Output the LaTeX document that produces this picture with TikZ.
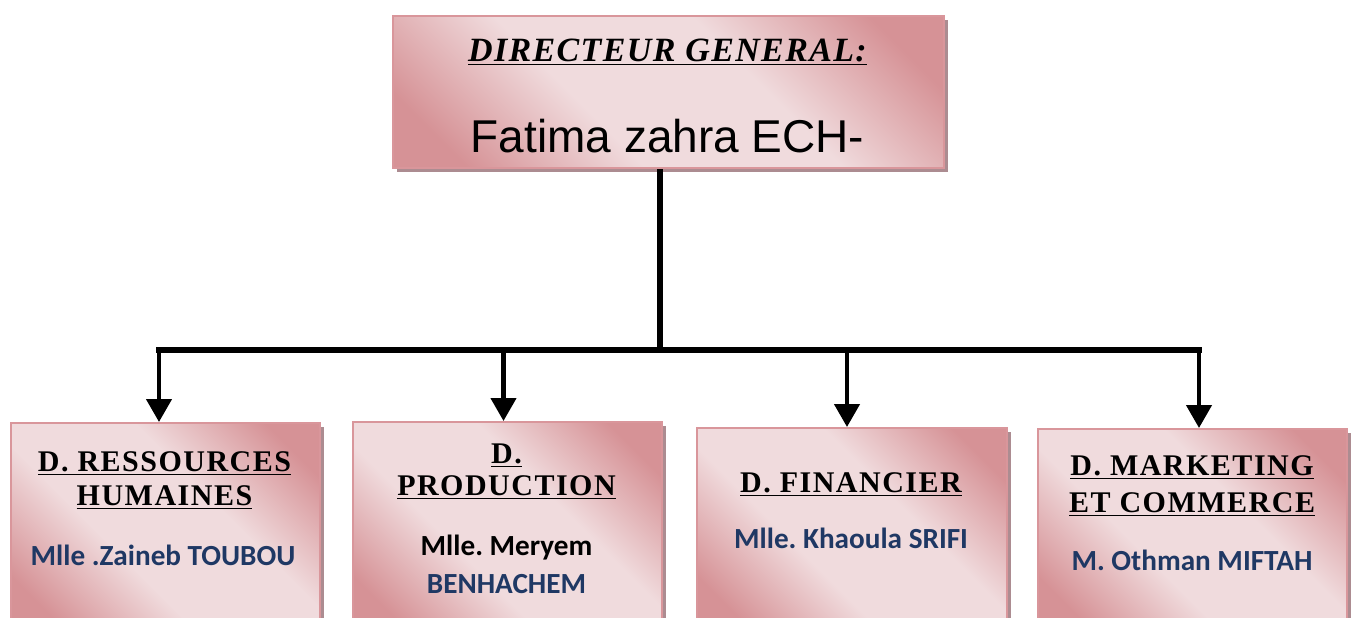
\documentclass[tikz,border=0pt]{standalone}
\usepackage{fontspec}
\setmainfont{Liberation Serif}
\newfontfamily\arialfont{Liberation Sans}
\newfontfamily\calibrifont{Carlito}
\newfontfamily\titrefont[LetterSpace=5]{Liberation Serif}
\newfontfamily\dgfont[LetterSpace=4]{Liberation Serif}
\usetikzlibrary{arrows.meta,shadows}
\definecolor{roseclair}{RGB}{240,219,221}
\definecolor{rosefonce}{RGB}{214,146,150}
\definecolor{bordrose}{RGB}{217,150,155}
\definecolor{ombre}{RGB}{172,140,145}
\definecolor{bleunom}{RGB}{31,56,100}
\pgfdeclarehorizontalshading{rose}{100bp}{color(0bp)=(rosefonce); color(22bp)=(rosefonce); color(40bp)=(roseclair); color(60bp)=(roseclair); color(78bp)=(rosefonce); color(100bp)=(rosefonce)}

\begin{document}
\frenchspacing
\begin{tikzpicture}[x=0.5pt,y=-0.5pt]
    \tikzset{poste/.style = {draw=bordrose, line width=1pt, shading=rose, shading angle=45, inner sep=0pt, anchor=north west, drop shadow={shadow xshift=1.75pt, shadow yshift=-1.75pt, fill=ombre, opacity=1}}}
    \tikzset{titre/.style = {anchor=base, inner sep=0pt, font=\titrefont\bfseries\fontsize{15}{18}\selectfont}}
    \tikzset{nom/.style = {anchor=base, inner sep=0pt, text=bleunom, font=\calibrifont\bfseries\fontsize{14.6}{17}\selectfont}}
    \tikzset{lien/.style = {draw=black, line width=2.2pt, -{Triangle[width=12.5pt,length=11.5pt]}}}

    \useasboundingbox (0,0) rectangle (1353,617);
    \clip (0,0) rectangle (1353,617);

    % boxes
    \node[poste, minimum width=275.5pt, minimum height=76pt] (dg) at (392,15) {};
    \node[poste, minimum width=154.5pt, minimum height=104pt] (rh) at (10,422) {};
    \node[poste, minimum width=154.5pt, minimum height=104.5pt] (prod) at (352,421) {};
    \node[poste, minimum width=155pt, minimum height=101.5pt] (fin) at (696,427) {};
    \node[poste, minimum width=154.5pt, minimum height=101pt] (mkt) at (1037,428) {};

    % texts
    \node[anchor=base, inner sep=0pt, font=\dgfont\bfseries\itshape\fontsize{17}{20}\selectfont] (dgT) at (667.5,61) {\underline{DIRECTEUR GENERAL:}};
    \node[anchor=base, inner sep=0pt, font=\arialfont\fontsize{23}{28}\selectfont] (dgN) at (667.5,152) {Fatima zahra ECH-};

    \node[titre] (rhT1) at (164.5,471) {\underline{D. RESSOURCES}};
    \node[titre] (rhT2) at (164.5,505) {\underline{HUMAINES}};
    \node[nom] (rhN) at (163,565) {Mlle .Zaineb TOUBOU};

    \node[titre] (prodT1) at (506.5,463) {\underline{D.}};
    \node[titre] (prodT2) at (506.5,495) {\underline{PRODUCTION}};
    \node[nom, text=black] (prodN1) at (506.5,555) {Mlle. Meryem};
    \node[nom] (prodN2) at (506.5,593) {BENHACHEM};

    \node[titre] (finT) at (851,492) {\underline{D. FINANCIER}};
    \node[nom] (finN) at (851,548) {Mlle. Khaoula SRIFI};

    \node[titre] (mktT1) at (1192,475) {\underline{D. MARKETING}};
    \node[titre] (mktT2) at (1192,512) {\underline{ET COMMERCE}};
    \node[nom] (mktN) at (1192,570) {M. Othman MIFTAH};

    % connectors
    \coordinate (a0) at (660,350);
    \coordinate (a1) at (159,350);
    \coordinate (a2) at (503.5,350);
    \coordinate (a3) at (847,350);
    \coordinate (a4) at (1199,350);
    \draw[line width=3pt] (a0 |- dg.south) -- (a0);
    \draw[line width=3pt, line cap=rect] (a1) -- (a4);
    \draw[lien] (a1) -- (a1 |- rh.north);
    \draw[lien] (a2) -- (a2 |- prod.north);
    \draw[lien] (a3) -- (a3 |- fin.north);
    \draw[lien] (a4) -- (a4 |- mkt.north);
\end{tikzpicture}
\end{document}
